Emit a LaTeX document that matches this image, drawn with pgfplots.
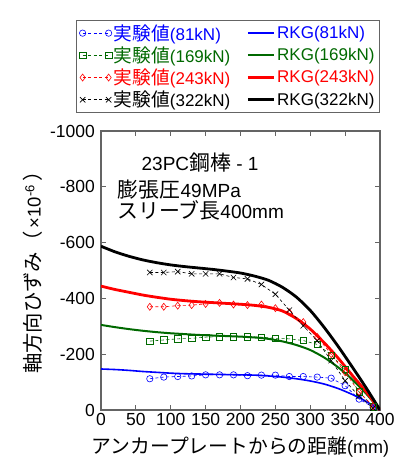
\documentclass[border=0pt]{standalone}
\usepackage{pgfplots}
\pgfplotsset{compat=1.18}
\usepackage{fontspec}
\setmainfont{Liberation Sans}
\newfontfamily\jp[Scale=1.1]{Noto Sans CJK JP}
\definecolor{dgreen}{RGB}{0,105,0}
\definecolor{axgray}{RGB}{100,100,100}

\pgfplotstableread{
x y
70 112
90 118
110 120
130 122
150 126
170 126
190 126
210 123
230 125
250 125
270 120
290 120
310 118
330 114
350 87
370 39
390 10
}\expA
\pgfplotstableread{
x y
70 247
90 251
110 255
130 257
150 261
170 263
190 263
210 263
230 261
250 257
270 255
290 249
310 235
330 197
350 145
370 65
390 12
}\expB
\pgfplotstableread{
x y
70 370
90 370
110 374
130 376
150 380
170 384
190 378
210 376
230 378
250 365
270 350
290 315
310 262
330 200
350 135
370 65
390 13
}\expC
\pgfplotstableread{
x y
70 493
90 493
110 496
130 488
150 488
170 488
190 475
210 470
230 450
250 415
270 358
290 302
310 248
330 177
350 105
370 49
390 7
}\expD
\pgfplotstableread{
x a b c d
0 147 305 444 587
20 145 297 432 567
40 142 290 422 551
60 138 284 412 538
80 135 279 404 528
100 132 275 397 520
120 130 272 392 514
140 129 269 388 509
160 128 267 385 504
180 127 265 382 498
200 126 263 379 491
220 125 260 375 480
240 122 255 368 465
260 118 246 355 440
280 112 233 328 405
300 104 215 290 357
320 93 188 241 296
340 77 153 186 228
360 56 110 125 155
380 31 59 66 80
400 0 0 0 0
}\rkg

\begin{document}
\begin{tikzpicture}[font=\fontsize{17}{20}\selectfont]
\path[use as bounding box] (0,0) rectangle (398pt,460pt);
\begin{axis}[
  at={(101pt,50pt)}, anchor=south west,
  scale only axis, width=279pt, height=279pt,
  xmin=0, xmax=400, ymin=0, ymax=1000,
  xtick={0,50,...,400},
  ytick={0,200,...,1000},
  yticklabels={0,-200,-400,-600,-800,-1000},
  /pgf/number format/assume math mode=true,
  tick align=inside, major tick length=5pt,
  axis line style={axgray, line width=1.2pt},
  tick style={axgray, line width=0.9pt},
  ticklabel style={font=\fontsize{17.5}{20}\selectfont},
  xticklabel style={inner sep=1pt, yshift=-2pt},
  yticklabel style={inner sep=1pt, xshift=-5pt},
  xlabel={{\jp アンカープレートからの距離}(mm)},
  xlabel style={anchor=center, font=\fontsize{18}{20}\selectfont, at={(axis description cs:0.5,-0.133)}},
  ylabel={{\jp 軸方向ひずみ（}\,×10\textsuperscript{-6}\,{\jp ）}},
  ylabel style={anchor=center, font=\fontsize{18.5}{20}\selectfont, at={(axis description cs:-0.244,0.51)}},
  legend columns=2,
  legend cell align=left,
  legend style={at={(axis description cs:1,1.065)}, anchor=south east,
    draw=axgray, line width=1pt, fill=white, inner xsep=3pt, inner ysep=2pt,
    row sep=1pt,
    /tikz/every even column/.append style={column sep=14pt},
    nodes={inner sep=2pt}},
  legend image code/.code={\draw[#1] plot coordinates {(0pt,0pt) (26pt,0pt)};},
  every axis plot/.append style={tension=0.45},
]
\addplot[blue, dash pattern=on 3pt off 2.5pt, line width=0.6pt, mark=o, mark size=3.2pt, mark options={solid}] table[x=x,y=y]{\expA};
\addlegendentry{\textcolor{blue}{{\jp 実験値}(81kN)}}
\addplot[blue, line width=1.6pt, smooth] table[x=x,y=a]{\rkg};
\addlegendentry{\textcolor{blue}{RKG(81kN)}}
\addplot[dgreen, dash pattern=on 3pt off 2.5pt, line width=0.6pt, mark=square, mark size=3.2pt, mark options={solid}] table[x=x,y=y]{\expB};
\addlegendentry{\textcolor{dgreen}{{\jp 実験値}(169kN)}}
\addplot[dgreen, line width=2pt, smooth] table[x=x,y=b]{\rkg};
\addlegendentry{\textcolor{dgreen}{RKG(169kN)}}
\addplot[red, dash pattern=on 3pt off 2.5pt, line width=0.6pt, mark=diamond, mark size=3.5pt, mark options={solid}] table[x=x,y=y]{\expC};
\addlegendentry{\textcolor{red}{{\jp 実験値}(243kN)}}
\addplot[red, line width=2.8pt, smooth] table[x=x,y=c]{\rkg};
\addlegendentry{\textcolor{red}{RKG(243kN)}}
\addplot[black, dash pattern=on 3pt off 2.5pt, line width=0.6pt, mark=x, mark size=3.8pt, mark options={solid}] table[x=x,y=y]{\expD};
\addlegendentry{{\jp 実験値}(322kN)}
\addplot[black, line width=2.8pt, smooth] table[x=x,y=d]{\rkg};
\addlegendentry{RKG(322kN)}
\node[anchor=west, inner sep=0pt, font=\fontsize{19}{20}\selectfont] at (axis cs:58,888) {23PC{\jp 鋼棒} - 1};
\node[anchor=west, inner sep=0pt, font=\fontsize{19}{20}\selectfont] at (axis cs:24,789) {{\jp 膨張圧}49MPa};
\node[anchor=west, inner sep=0pt, font=\fontsize{19}{20}\selectfont] at (axis cs:23,715) {{\jp スリーブ長}400mm};
\end{axis}
\end{tikzpicture}
\end{document}
